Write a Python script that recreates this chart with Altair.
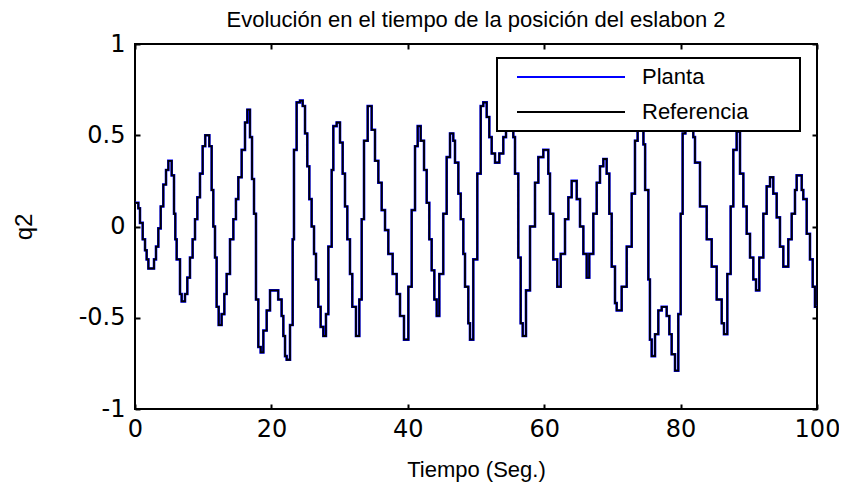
import altair as alt
import pandas as pd

# ---- data ----
tiempo = [
    0.0, 0.49, 0.73, 1.13, 1.47, 1.71, 1.96, 2.79, 3.08, 3.42, 3.77, 4.15, 4.55, 4.89,
    5.38, 5.72, 5.91, 6.11, 6.60, 6.84, 7.33, 7.67, 8.06, 8.45, 8.80, 9.14, 9.53, 9.92,
    10.30, 10.90, 11.24, 11.48, 11.73, 11.97, 12.27, 12.70, 13.10, 13.44, 13.93, 14.42,
    14.80, 15.15, 15.64, 16.13, 16.47, 16.86, 17.16, 17.45, 17.74, 18.08, 18.43, 18.82,
    19.31, 19.80, 21.00, 21.50, 21.75, 22.00, 22.24, 22.73, 23.12, 23.31, 23.70, 24.19,
    24.59, 24.93, 25.26, 25.56, 25.90, 26.25, 26.54, 26.88, 27.22, 27.61, 28.00, 28.35,
    28.84, 29.08, 29.57, 30.06, 30.45, 30.79, 31.13, 31.52, 31.86, 32.40, 32.89, 33.24,
    33.58, 34.12, 34.70, 35.19, 35.68, 36.17, 36.66, 37.14, 37.78, 38.37, 38.86, 39.44,
    40.08, 40.57, 41.06, 41.45, 41.89, 42.38, 42.77, 43.15, 43.50, 43.89, 44.24, 44.62,
    45.20, 45.70, 46.19, 46.67, 46.92, 47.41, 47.76, 48.14, 48.39, 48.87, 49.12, 49.60,
    50.19, 50.69, 51.07, 51.57, 51.95, 52.30, 52.79, 53.42, 54.00, 54.40, 54.80, 55.20,
    55.47, 55.72, 56.20, 56.55, 56.85, 57.33, 57.92, 58.65, 59.14, 59.87, 60.60, 60.85,
    61.33, 61.92, 62.42, 63.05, 63.54, 64.03, 64.77, 65.25, 65.74, 66.23, 66.61, 67.20,
    67.70, 68.18, 68.67, 69.16, 69.55, 69.90, 70.38, 70.63, 71.36, 72.10, 72.83, 73.31,
    73.70, 74.00, 74.30, 74.55, 74.80, 75.27, 75.50, 75.76, 76.25, 76.73, 77.23, 77.96,
    78.35, 78.69, 79.18, 79.66, 80.01, 80.30, 80.70, 81.00, 81.40, 81.86, 82.11, 82.84,
    83.83, 84.56, 85.29, 86.03, 86.36, 86.85, 87.34, 87.73, 88.22, 88.71, 89.20, 89.69,
    90.18, 90.66, 91.06, 91.54, 92.13, 92.62, 93.11, 93.59, 94.09, 94.57, 95.06, 95.79,
    96.29, 96.77, 97.02, 97.76, 97.99, 98.49, 98.97, 99.37, 99.70, 100.0,
]

q2_referencia = [
    0.13, 0.10, 0.02, -0.07, -0.13, -0.18, -0.23, -0.18, -0.11, -0.01, 0.11, 0.23, 0.31, 0.36,
    0.28, 0.07, -0.07, -0.18, -0.37, -0.41, -0.37, -0.28, -0.17, -0.07, 0.04, 0.16, 0.29, 0.44,
    0.50, 0.44, 0.20, 0.00, -0.17, -0.44, -0.54, -0.48, -0.37, -0.26, -0.07, 0.04,
    0.15, 0.27, 0.42, 0.57, 0.64, 0.49, 0.26, 0.07, -0.40, -0.66, -0.69, -0.57,
    -0.46, -0.35, -0.40, -0.49, -0.60, -0.71, -0.73, -0.54, -0.07, 0.42, 0.68, 0.69,
    0.66, 0.51, 0.33, 0.15, 0.00, -0.15, -0.29, -0.44, -0.55, -0.60, -0.48, -0.11,
    0.31, 0.55, 0.57, 0.46, 0.29, 0.11, -0.07, -0.26, -0.44, -0.60, -0.40, 0.04,
    0.47, 0.66, 0.53, 0.36, 0.24, 0.09, -0.02, -0.15, -0.26, -0.37, -0.49, -0.62,
    -0.33, 0.09, 0.44, 0.55, 0.47, 0.31, 0.13, -0.07, -0.24, -0.40, -0.49, -0.26,
    0.07, 0.38, 0.51, 0.47, 0.35, 0.18, 0.04, -0.15, -0.33, -0.53, -0.62, -0.18,
    0.29, 0.66, 0.68, 0.60, 0.49, 0.40, 0.35, 0.40, 0.49, 0.57, 0.60, 0.56,
    0.49, 0.29, -0.17, -0.53, -0.60, -0.35, 0.00, 0.24, 0.38, 0.42, 0.29, 0.07,
    -0.18, -0.33, -0.15, 0.04, 0.16, 0.25, 0.15, 0.00, -0.15, -0.28, -0.15, 0.07,
    0.24, 0.33, 0.37, 0.29, 0.07, -0.22, -0.42, -0.46, -0.33, -0.11, 0.18, 0.47,
    0.62, 0.70, 0.62, 0.45, 0.20, -0.29, -0.62, -0.71, -0.59, -0.46, -0.44, -0.49,
    -0.59, -0.70, -0.79, -0.48, 0.07, 0.51, 0.68, 0.75, 0.70, 0.49, 0.35, 0.11,
    -0.07, -0.22, -0.40, -0.53, -0.59, -0.26, 0.11, 0.42, 0.52, 0.29, 0.11, -0.04,
    -0.17, -0.29, -0.35, -0.17, 0.07, 0.22, 0.27, 0.18, 0.05, -0.11, -0.22, -0.07,
    0.07, 0.20, 0.28, 0.20, 0.15, -0.04, -0.18, -0.33, -0.44, -0.44,
]

# the plant output overlaps the reference everywhere in the picture
q2_planta = list(q2_referencia)

series = ["Planta", "Referencia"]
colores = ["#0000ff", "#000000"]
x_ticks = [0, 20, 40, 60, 80, 100]
y_ticks = [-1, -0.5, 0, 0.5, 1]

W, H = 682, 365

df_planta = pd.DataFrame({"t": tiempo, "q2": q2_planta, "serie": "Planta"})
df_ref = pd.DataFrame({"t": tiempo, "q2": q2_referencia, "serie": "Referencia"})

xscale = alt.Scale(domain=[0, 100], nice=False, zero=False)
yscale = alt.Scale(domain=[-1, 1], nice=False, zero=False)

TICK_FONT = "DejaVu Sans"
TEXT_FONT = "Liberation Sans"

legend = alt.Legend(
    orient="none", legendX=362, legendY=14,
    title=" ", titleOrient="right", titlePadding=44, titleFontSize=10,
    fillColor="white", strokeColor="black", padding=8,
    symbolType="M-5.4,0H5.4", symbolSize=400, symbolStrokeWidth=2,
    symbolOffset=55, labelOffset=60, rowPadding=13,
    labelFont=TEXT_FONT, labelFontSize=22, labelColor="black", labelLimit=400,
    zindex=1,
)
color = alt.Color(
    "serie:N", scale=alt.Scale(domain=series, range=colores), legend=legend
)

label_fmt = "datum.value == 0 ? '0' : (datum.value < 0 ? '-' : '') + toString(abs(datum.value))"

x_labels = alt.Axis(
    orient="bottom", values=x_ticks, ticks=False, domain=False, grid=False,
    labelFont=TICK_FONT, labelFontSize=24, labelColor="black", labelPadding=8,
    labelFlush=False, title="Tiempo (Seg.)", titleFont=TEXT_FONT, titleFontSize=22,
    titleFontWeight="normal", titleColor="black", titlePadding=18,
)
y_labels = alt.Axis(
    orient="left", values=y_ticks, ticks=False, domain=False, grid=False,
    labelFont=TICK_FONT, labelFontSize=24, labelColor="black", labelPadding=10,
    labelFlush=False, labelExpr=label_fmt,
    title="q2", titleFont=TEXT_FONT, titleFontSize=24, titleFontWeight="normal",
    titleColor="black", titlePadding=42,
)


def tick_axis(orient, values, offset):
    return alt.Axis(
        orient=orient, values=values, labels=False, domain=False, grid=False,
        ticks=True, tickSize=5, tickWidth=2, tickColor="black", offset=offset,
        title=None,
    )


planta = alt.Chart(df_planta).mark_line(
    interpolate="step-after", strokeWidth=2.6
).encode(
    x=alt.X("t:Q", scale=xscale, axis=x_labels),
    y=alt.Y("q2:Q", scale=yscale, axis=y_labels),
    color=color,
)

referencia = alt.Chart(df_ref).mark_line(
    interpolate="step-after", strokeWidth=1.8
).encode(
    x=alt.X("t:Q", scale=xscale, axis=tick_axis("top", x_ticks, -H)),
    y=alt.Y("q2:Q", scale=yscale, axis=tick_axis("right", y_ticks, -W)),
    color=color,
)

guia = alt.Chart(df_ref).mark_line(opacity=0).encode(
    x=alt.X("t:Q", scale=xscale, axis=tick_axis("bottom", x_ticks, -H)),
    y=alt.Y("q2:Q", scale=yscale, axis=tick_axis("left", y_ticks, -W)),
)

chart = (
    alt.layer(planta, referencia, guia)
    .resolve_axis(x="independent", y="independent")
    .properties(
        width=W, height=H,
        title=alt.TitleParams(
            "Evolución en el tiempo de la posición del eslabon 2",
            font=TEXT_FONT, fontSize=22, fontWeight="normal", color="black",
            anchor="middle", offset=0,
        ),
        padding={"left": 127, "top": 36, "right": 22, "bottom": 76},
        autosize=alt.AutoSizeParams(type="none"),
    )
    .configure_view(stroke="black", strokeWidth=2)
    .configure_legend(strokeWidth=2)
)

chart.save("out.html", embed_options={"renderer": "svg", "actions": False})
